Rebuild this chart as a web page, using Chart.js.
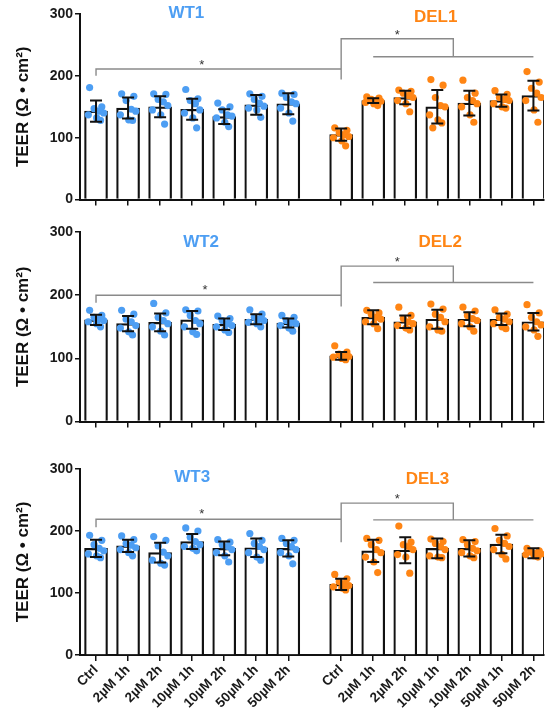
<!DOCTYPE html>
<html>
<head>
<meta charset="utf-8">
<script src="https://cdn.jsdelivr.net/npm/chart.js@4.4.1/dist/chart.umd.min.js"></script>
<style>
  body { margin: 0; background: #fff; }
  canvas { position: absolute; left: 0; }
</style>
</head>
<body>
<canvas id="p1" width="548" height="210" style="top:0px"></canvas>
<canvas id="p2" width="548" height="212" style="top:220px"></canvas>
<canvas id="p3" width="548" height="258" style="top:455px"></canvas>
<script>
const categories = ["Ctrl", "2µM 1h", "2µM 2h", "10µM 1h", "10µM 2h", "50µM 1h", "50µM 2h"];
const yTicks = [0, 100, 200, 300];

// panel 1
const wt1Mean = [143, 148, 150, 146, 134, 153, 155];
const wt1Sd = [17, 17, 17, 17, 12, 16, 17];
const wt1Pts = [
  [181, 150, 147, 143, 140, 137, 132, 128],
  [171, 167, 160, 146, 143, 137, 129, 128],
  [171, 170, 162, 158, 152, 145, 137, 122],
  [178, 163, 160, 155, 145, 140, 132, 116],
  [156, 150, 145, 137, 135, 132, 125, 118],
  [171, 167, 162, 156, 151, 148, 145, 133],
  [172, 170, 165, 158, 155, 148, 140, 127],
];
const del1Mean = [105, 160, 165, 150, 156, 160, 168];
const del1Sd = [10, 4, 11, 27, 20, 10, 24];
const del1Pts = [
  [116, 112, 108, 105, 102, 100, 95, 87],
  [166, 164, 162, 160, 159, 157, 155, 152],
  [177, 175, 172, 168, 165, 160, 155, 142],
  [194, 185, 165, 152, 150, 137, 129, 124, 116],
  [193, 172, 165, 160, 155, 150, 137, 125],
  [176, 170, 165, 162, 160, 155, 150, 148],
  [207, 190, 180, 172, 165, 160, 145, 125],
];

// panel 2
const wt2Mean = [161, 155, 157, 161, 154, 162, 156];
const wt2Sd = [8, 12, 14, 14, 9, 8, 7];
const wt2Pts = [
  [176, 168, 165, 162, 160, 158, 155, 150],
  [176, 170, 162, 158, 152, 148, 142, 137],
  [187, 172, 165, 160, 155, 150, 143, 137],
  [177, 175, 168, 160, 155, 150, 142, 138],
  [167, 163, 160, 155, 152, 150, 145, 141],
  [177, 170, 165, 162, 160, 157, 155, 150],
  [168, 165, 160, 157, 155, 152, 148, 143],
];
const del2Mean = [104, 165, 158, 162, 162, 162, 158];
const del2Sd = [6, 11, 10, 15, 11, 9, 14];
const del2Pts = [
  [120, 110, 107, 105, 103, 102, 100, 98],
  [176, 172, 170, 165, 162, 158, 155, 147],
  [181, 168, 163, 158, 155, 152, 148, 145],
  [186, 178, 170, 165, 158, 150, 145, 143],
  [181, 175, 168, 163, 160, 155, 150, 143],
  [177, 170, 165, 162, 158, 155, 150, 147],
  [185, 172, 165, 158, 153, 150, 145, 135],
];

// panel 3
const wt3Mean = [172, 176, 165, 183, 172, 173, 172];
const wt3Sd = [14, 10, 16, 12, 11, 15, 13];
const wt3Pts = [
  [193, 185, 178, 172, 168, 163, 160, 157],
  [192, 186, 180, 177, 173, 170, 165, 160],
  [191, 185, 176, 166, 160, 153, 148, 145],
  [205, 200, 190, 183, 178, 175, 172, 168],
  [186, 182, 178, 175, 170, 165, 160, 150],
  [196, 185, 180, 175, 170, 165, 158, 153],
  [188, 185, 180, 175, 170, 165, 160, 147],
];
const del3Mean = [114, 168, 169, 172, 172, 179, 164];
const del3Sd = [9, 18, 21, 16, 13, 15, 8];
const del3Pts = [
  [130, 123, 118, 115, 112, 110, 108, 105],
  [188, 185, 178, 170, 165, 158, 150, 133],
  [208, 182, 178, 175, 170, 162, 158, 132],
  [187, 183, 180, 175, 170, 160, 158, 157],
  [186, 183, 178, 172, 168, 165, 160, 157],
  [204, 192, 185, 180, 175, 170, 162, 155],
  [172, 168, 166, 164, 163, 162, 160, 158],
];

const BLUE = "#4d9ef3";
const ORANGE = "#ff8514";
const FONT = 'Arial, "Liberation Sans", sans-serif';
const DEL_OFFSET = 7.65;
const jitter = [-0.2, 0.18, -0.06, 0.1, 0.24, -0.24, 0.02, 0.14, -0.14];

const wtX = categories.map((c, i) => i);
const delX = categories.map((c, i) => i + DEL_OFFSET);
const tickPos = wtX.concat(delX);
const tickLabels = categories.concat(categories);

function dots(pts, xs) {
  const out = [];
  pts.forEach((arr, i) => arr.forEach((v, j) => out.push({ x: xs[i] + jitter[j % jitter.length], y: v })));
  return out;
}

function decor(p) {
  return {
    id: "decor",
    afterDatasetsDraw(chart) {
      const { ctx, scales } = chart;
      const X = (v) => scales.x.getPixelForValue(v);
      const Y = (v) => scales.y.getPixelForValue(v);
      ctx.save();
      // error bars
      ctx.strokeStyle = "#111";
      ctx.lineWidth = 2;
      const means = p.wtMean.concat(p.delMean);
      const sds = p.wtSd.concat(p.delSd);
      tickPos.forEach((xv, i) => {
        const px = X(xv), top = Y(means[i] + sds[i]), bot = Y(means[i] - sds[i]);
        ctx.beginPath();
        ctx.moveTo(px, top); ctx.lineTo(px, bot);
        ctx.moveTo(px - 6, top); ctx.lineTo(px + 6, top);
        ctx.moveTo(px - 6, bot); ctx.lineTo(px + 6, bot);
        ctx.stroke();
      });
      // significance brackets
      const b = p.br;
      const xc = DEL_OFFSET, xs = delX[1], xe = delX[6], xm = (xs + xe) / 2;
      ctx.strokeStyle = "#8a8a8a";
      ctx.lineWidth = 1.4;
      ctx.beginPath();
      ctx.moveTo(X(0), Y(b.tick)); ctx.lineTo(X(0), Y(b.wt)); ctx.lineTo(X(xc), Y(b.wt));
      ctx.moveTo(X(xc), Y(b.ctrl)); ctx.lineTo(X(xc), Y(b.top)); ctx.lineTo(X(xm), Y(b.top)); ctx.lineTo(X(xm), Y(b.treat));
      ctx.moveTo(X(xs), Y(b.treat)); ctx.lineTo(X(xe), Y(b.treat));
      ctx.stroke();
      ctx.fillStyle = "#333";
      ctx.font = "13px " + FONT;
      ctx.textAlign = "center";
      ctx.textBaseline = "middle";
      ctx.fillText("*", X(b.s1x), Y(b.s1y) + 3);
      ctx.fillText("*", X((xc + xm) / 2), Y(b.s2y) + 3);
      // group titles
      ctx.font = "bold 17px " + FONT;
      ctx.fillStyle = BLUE;
      ctx.fillText(p.wtTitle, X(p.t[0]), Y(p.t[1]));
      ctx.fillStyle = ORANGE;
      ctx.fillText(p.delTitle, X(p.t[2]), Y(p.t[3]));
      ctx.restore();
    },
  };
}

function makePanel(id, p) {
  const bars = p.wtMean.map((v, i) => ({ x: wtX[i], y: v }))
    .concat(p.delMean.map((v, i) => ({ x: delX[i], y: v })));
  new Chart(document.getElementById(id), {
    type: "bar",
    data: {
      datasets: [
        { data: bars, backgroundColor: "#fff", borderColor: "#111", borderWidth: 2.2, barThickness: 23, order: 3 },
        { type: "scatter", data: dots(p.wtPts, wtX), backgroundColor: BLUE, pointRadius: 3.6, pointBorderWidth: 0, order: 1 },
        { type: "scatter", data: dots(p.delPts, delX), backgroundColor: ORANGE, pointRadius: 3.6, pointBorderWidth: 0, order: 1 },
      ],
    },
    options: {
      responsive: false,
      animation: false,
      layout: { padding: { top: p.padTop, left: 0, right: 0, bottom: 0 } },
      plugins: { legend: { display: false }, tooltip: { enabled: false } },
      scales: {
        x: {
          type: "linear",
          offset: false,
          min: -0.5,
          max: 13.98,
          afterBuildTicks: (axis) => { axis.ticks = tickPos.map((v) => ({ value: v })); },
          afterFit: (scale) => {
            scale.height = p.xHeight;
            scale.paddingLeft = 0;
            scale.paddingRight = 0;
          },
          grid: { offset: false, drawOnChartArea: false, drawTicks: true, tickLength: 6, color: "#111", lineWidth: 1.5 },
          border: { display: true, color: "#111", width: 2 },
          ticks: {
            autoSkip: false,
            display: p.showLabels,
            minRotation: 45,
            maxRotation: 45,
            padding: 1,
            color: "#1a1a1a",
            font: { family: FONT, size: 13.5, weight: "bold" },
            callback: (v, i) => tickLabels[i],
          },
        },
        y: {
          min: 0,
          max: 300,
          afterBuildTicks: (axis) => { axis.ticks = yTicks.map((v) => ({ value: v })); },
          afterFit: (scale) => { scale.width = 80; },
          grid: { drawOnChartArea: false, drawTicks: true, tickLength: 5, color: "#111", lineWidth: 1.5 },
          border: { display: true, color: "#111", width: 2 },
          ticks: { color: "#1a1a1a", padding: 2, font: { family: FONT, size: 14, weight: "bold" } },
          title: {
            display: true,
            text: "TEER (Ω • cm²)",
            color: "#111",
            padding: { top: 13, bottom: 0 },
            font: { family: FONT, size: 17, weight: "bold" },
          },
        },
      },
    },
    plugins: [decor(p)],
  });
}

makePanel("p1", {
  wtMean: wt1Mean, wtSd: wt1Sd, wtPts: wt1Pts, delMean: del1Mean, delSd: del1Sd, delPts: del1Pts,
  wtTitle: "WT1", delTitle: "DEL1", t: [2.82, 301, 10.6, 294],
  br: { tick: 200, wt: 211, ctrl: 194, top: 260, treat: 231, s1x: 3.3, s1y: 222, s2y: 270 },
  padTop: 14, xHeight: 10, showLabels: false,
});
makePanel("p2", {
  wtMean: wt2Mean, wtSd: wt2Sd, wtPts: wt2Pts, delMean: del2Mean, delSd: del2Sd, delPts: del2Pts,
  wtTitle: "WT2", delTitle: "DEL2", t: [3.28, 284, 10.74, 283],
  br: { tick: 188, wt: 200, ctrl: 182, top: 246, treat: 220, s1x: 3.4, s1y: 212, s2y: 256 },
  padTop: 12, xHeight: 10, showLabels: false,
});
makePanel("p3", {
  wtMean: wt3Mean, wtSd: wt3Sd, wtPts: wt3Pts, delMean: del3Mean, delSd: del3Sd, delPts: del3Pts,
  wtTitle: "WT3", delTitle: "DEL3", t: [3.0, 287, 10.34, 284],
  br: { tick: 206, wt: 219, ctrl: 182, top: 245, treat: 218, s1x: 3.3, s1y: 231, s2y: 255 },
  padTop: 14, xHeight: 58, showLabels: true,
});
</script>
</body>
</html>
